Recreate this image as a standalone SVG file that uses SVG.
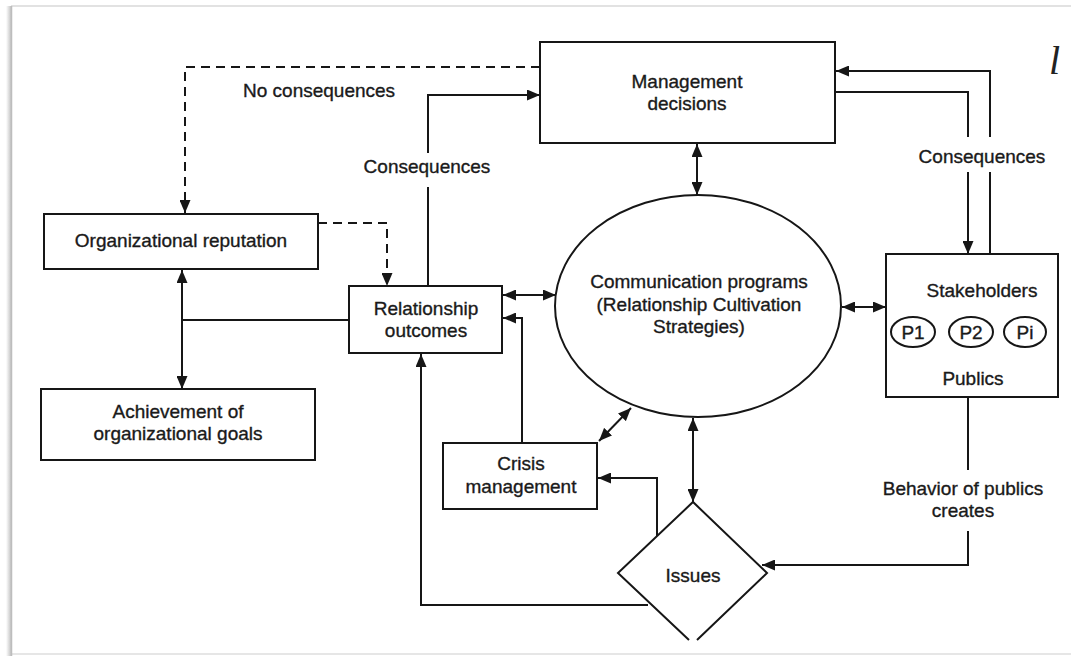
<svg xmlns="http://www.w3.org/2000/svg" width="1071" height="656" viewBox="0 0 1071 656">
<defs>
<marker id="ah" viewBox="0 0 13 11" refX="13" refY="5.5" markerWidth="13" markerHeight="11" orient="auto-start-reverse" markerUnits="userSpaceOnUse"><path d="M0,0 L13,5.5 L0,11 z" fill="#161616"/></marker>
<linearGradient id="shadow" x1="0" x2="1" y1="0" y2="0"><stop offset="0" stop-color="#ffffff"/><stop offset="1" stop-color="#b8b8b8"/></linearGradient>
<style>
.box{fill:#fff;stroke:#161616;stroke-width:2}
.t{font-family:"Liberation Sans",Arial,sans-serif;font-size:19px;fill:#1a1a1a;stroke:#1a1a1a;stroke-width:0.35;text-anchor:middle}
.tl{font-family:"Liberation Sans",Arial,sans-serif;font-size:19px;fill:#1a1a1a;stroke:#1a1a1a;stroke-width:0.35}
.c{fill:none;stroke:#161616;stroke-width:2}
.d{fill:none;stroke:#161616;stroke-width:2;stroke-dasharray:9,6}
.a{marker-end:url(#ah)}
.b{marker-start:url(#ah);marker-end:url(#ah)}
</style>
</defs>
<rect x="0" y="0" width="1071" height="656" fill="#fff"/>
<g id="frame">
<rect x="6" y="6" width="6" height="650" fill="url(#shadow)"/>
<line x1="11" y1="6" x2="1071" y2="6" stroke="#e2e2e2" stroke-width="2"/>
<line x1="11" y1="654" x2="1071" y2="654" stroke="#e6e6e6" stroke-width="2"/>
<line x1="11.5" y1="6" x2="11.5" y2="656" stroke="#bdbdbd" stroke-width="1.5"/>
</g>
<g id="connectors">
<path class="d a" d="M540,67 H185 V213"/>
<path class="d a" d="M318,223 H387 V286"/>
<path class="c" d="M428,286 V187"/>
<path class="c a" d="M428,153 V95 H540"/>
<path class="c b" d="M697,144 V195"/>
<path class="c" d="M835,92 H968 V137"/>
<path class="c a" d="M968,172 V254"/>
<path class="c" d="M990,254 V172"/>
<path class="c a" d="M990,137 V71 H836"/>
<path class="c b" d="M503,295 H556"/>
<path class="c b" d="M842,307 H886"/>
<path class="c b" d="M182,270 V389"/>
<path class="c" d="M182,320 H349"/>
<path class="c a" d="M522,443 V318 H503"/>
<path class="c b" d="M599,441 L631,408"/>
<path class="c b" d="M693,418 V502"/>
<path class="c a" d="M657,536 V478 H598"/>
<path class="c a" d="M648,605 H421 V354"/>
<path class="c" d="M968,397 V470"/>
<path class="c a" d="M968,531 V565 H762"/>
</g>
<g id="management-decisions">
<rect class="box" x="540" y="42" width="295" height="101"/>
<text class="t" x="687" y="88">Management</text>
<text class="t" x="687" y="110">decisions</text>
</g>
<g id="organizational-reputation">
<rect class="box" x="44" y="214" width="274" height="55"/>
<text class="t" x="181" y="247">Organizational reputation</text>
</g>
<g id="achievement">
<rect class="box" x="41" y="389" width="274" height="71"/>
<text class="t" x="178" y="418">Achievement of</text>
<text class="t" x="178" y="440">organizational goals</text>
</g>
<g id="relationship-outcomes">
<rect class="box" x="349" y="286" width="153" height="67"/>
<text class="t" x="426" y="315">Relationship</text>
<text class="t" x="426" y="337">outcomes</text>
</g>
<g id="communication-programs">
<ellipse class="box" cx="698" cy="306" rx="143" ry="111"/>
<text class="t" x="699" y="288">Communication programs</text>
<text class="t" x="699" y="311">(Relationship Cultivation</text>
<text class="t" x="699" y="333">Strategies)</text>
</g>
<g id="stakeholders">
<rect class="box" x="886" y="254" width="172" height="143"/>
<text class="t" x="982" y="297">Stakeholders</text>
<ellipse class="box" cx="913" cy="332" rx="22" ry="15"/>
<ellipse class="box" cx="971" cy="332" rx="22" ry="15"/>
<ellipse class="box" cx="1025" cy="332" rx="21" ry="15"/>
<text class="t" x="913" y="339">P1</text>
<text class="t" x="971" y="339">P2</text>
<text class="t" x="1025" y="339">Pi</text>
<text class="t" x="973" y="385">Publics</text>
</g>
<g id="crisis-management">
<rect class="box" x="443" y="443" width="154" height="66"/>
<text class="t" x="521" y="470">Crisis</text>
<text class="t" x="521" y="493">management</text>
</g>
<g id="issues">
<path class="box" d="M689,640 L618,573 L693,502 L767,573 L697,640"/>
<text class="t" x="693" y="582">Issues</text>
</g>
<g id="labels">
<text class="tl" x="243" y="97">No consequences</text>
<text class="t" x="427" y="173">Consequences</text>
<text class="t" x="982" y="163">Consequences</text>
<text class="t" x="963" y="495">Behavior of publics</text>
<text class="t" x="963" y="517">creates</text>
<text x="1049" y="74" font-family="Liberation Serif,serif" font-style="italic" font-size="40" fill="#222">l</text>
</g>
</svg>
